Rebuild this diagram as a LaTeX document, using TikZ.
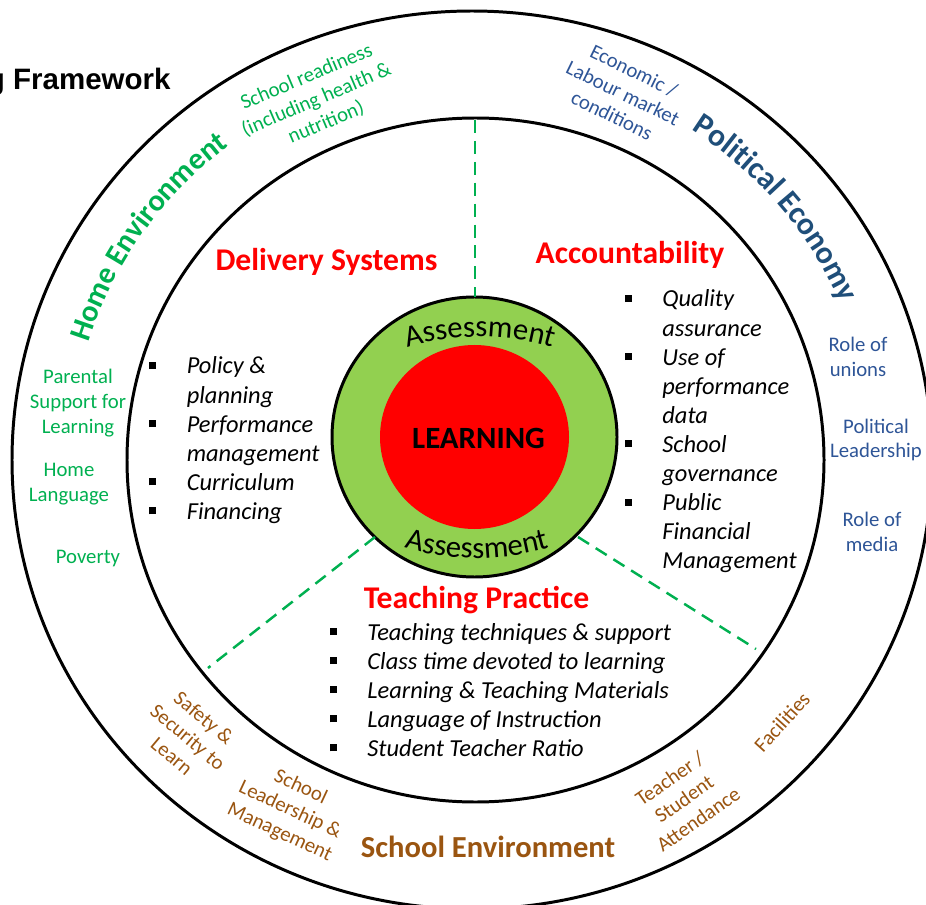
\documentclass[tikz,border=0pt]{standalone}
\usepackage{fontspec}
\setmainfont{Carlito}
\newfontfamily\titlefont{Liberation Sans}
\usetikzlibrary{decorations.text}
\definecolor{ringgreen}{HTML}{92D050}
\definecolor{learnred}{HTML}{FF0000}
\definecolor{homegreen}{HTML}{00B050}
\definecolor{polblue}{HTML}{1F4E79}
\definecolor{polblue2}{HTML}{2E5597}
\definecolor{schbrown}{HTML}{9A5511}
\newcommand{\hdsize}{\fontsize{18}{21}\selectfont\bfseries}
\newcommand{\bulsize}{\fontsize{13.9}{16.55}\selectfont\itshape}
\newcommand{\lblsize}{\fontsize{11.8}{14.17}\selectfont}
\newcommand{\asssize}{\fontsize{17.5}{20}\selectfont}
\newcommand{\sqb}{\makebox[21.5pt][l]{\raisebox{2.8pt}{\rule{4pt}{4pt}}}}
\tikzset{
  ring/.style={draw=black, line width=1.7pt},
  divider/.style={draw=homegreen, line width=1.4pt, dash pattern=on 7.4pt off 4.5pt},
  heading/.style={font=\hdsize, text=learnred, inner sep=0pt, anchor=base},
  bullets/.style={font=\bulsize, text=black, inner sep=0pt, anchor=base west},
  homelbl/.style={font=\lblsize, text=homegreen, align=center, inner sep=0pt},
  pollbl/.style={font=\lblsize, text=polblue2, align=center, inner sep=0pt},
  schlbl/.style={font=\lblsize, text=schbrown, align=center, inner sep=0pt}
}

\begin{document}
\begin{tikzpicture}[x=0.02cm, y=-0.02cm]
  \useasboundingbox (0,0) rectangle (926,905);

  % Outer and inner rings
  \draw[ring] (472,460) ellipse [x radius=460, y radius=449];
  \draw[ring] (475.5,460) ellipse [x radius=348.5, y radius=342];

  % Learning core
  \filldraw[ring, fill=ringgreen] (474.5,437) ellipse [x radius=142.5, y radius=140];
  \fill[learnred] (474.5,437) ellipse [x radius=94.5, y radius=92];
  \node[heading, text=black, font={\fontsize{17.6}{20}\selectfont\bfseries}] (learn) at (478.5,448) {LEARNING};
  \path[decorate, decoration={text along path, text align=center, text={|\asssize|Assessment}}]
    (480,594) ++(235:257) arc[start angle=235, end angle=305, radius=257];
  \path[decorate, decoration={text along path, text align=center, text={|\asssize|Assessment}}]
    (477,299) ++(125:259) arc[start angle=125, end angle=55, radius=259];

  % Dividers
  \coordinate (vtop) at (475,120);
  \coordinate (vbot) at (475,297);
  \coordinate (lin) at (375,537);
  \coordinate (lout) at (208,668);
  \coordinate (rin) at (578,537);
  \coordinate (rout) at (756,649);
  \draw[divider] (vtop) -- (vbot);
  \draw[divider] (lin) -- (lout);
  \draw[divider] (rin) -- (rout);

  % Title
  \node[font={\titlefont\fontsize{16.8}{19}\selectfont\bfseries}, anchor=base east, inner sep=0pt] (title) at (171,90) {g Framework};

  % Inner sectors
  \node[heading] (dsys) at (326.5,271) {Delivery Systems};
  \node[bullets] (dlist) at (148.7,374) {\begin{tabular}[t]{@{}l@{}l@{}}
    \sqb & Policy \& \\ & planning \\ \sqb & Performance \\ & management \\
    \sqb & Curriculum \\ \sqb & Financing
  \end{tabular}};
  \node[heading] (acct) at (630,264) {Accountability};
  \node[bullets] (alist) at (624.3,307) {\begin{tabular}[t]{@{}l@{}l@{}}
    \sqb & Quality \\ & assurance \\ \sqb & Use of \\ & performance \\ & data \\
    \sqb & School \\ & governance \\ \sqb & Public \\ & Financial \\ & Management
  \end{tabular}};
  \node[heading] (tprac) at (476.5,608) {Teaching Practice};
  \node[bullets] (tlist) at (329.3,640) {\begin{tabular}[t]{@{}l@{}l@{}}
    \sqb & Teaching techniques \& support \\ \sqb & Class time devoted to learning \\
    \sqb & Learning \& Teaching Materials \\ \sqb & Language of Instruction \\
    \sqb & Student Teacher Ratio
  \end{tabular}};

  % Home environment
  \path[decorate, decoration={text along path, text align=center, text={|\fontsize{17.3}{20}\selectfont\bfseries\color{homegreen}|Home Environment}}]
    (472,460) ++(185:402 and 394) arc[start angle=185, end angle=245, x radius=402, y radius=394];
  \node[homelbl, rotate=23] (ready) at (316.5,100) {School readiness\\(including health \&\\nutrition)};
  \node[homelbl] (parent) at (78,403) {Parental\\Support for\\Learning};
  \node[homelbl] (homelang) at (69,484) {Home\\Language};
  \node[homelbl] (poverty) at (88,559) {Poverty};

  % Political economy
  \path[decorate, decoration={text along path, text align=center, text={|\hdsize\color{polblue}|Political Economy}}]
    (472,460) ++(-76:402 and 394) arc[start angle=-76, end angle=-4, x radius=402, y radius=394];
  \node[pollbl, rotate=-26] (econ) at (623,93) {Economic /\\Labour market\\conditions};
  \node[pollbl] (unions) at (858,357) {Role of\\unions};
  \node[pollbl] (polead) at (876,440) {Political\\Leadership};
  \node[pollbl] (media) at (872,532) {Role of\\media};

  % School environment
  \node[heading, text=schbrown, font={\fontsize{17.4}{20}\selectfont\bfseries}] (schenv) at (488,857) {School Environment};
  \node[schlbl, rotate=-40] (safety) at (188,737) {Safety \&\\Security to\\Learn};
  \node[schlbl, rotate=-25] (slead) at (290,810) {School\\Leadership \&\\Management};
  \node[schlbl, rotate=35] (attend) at (684,799) {Teacher /\\Student\\Attendance};
  \node[schlbl, rotate=48] (facil) at (782,722) {Facilities};
\end{tikzpicture}
\end{document}
